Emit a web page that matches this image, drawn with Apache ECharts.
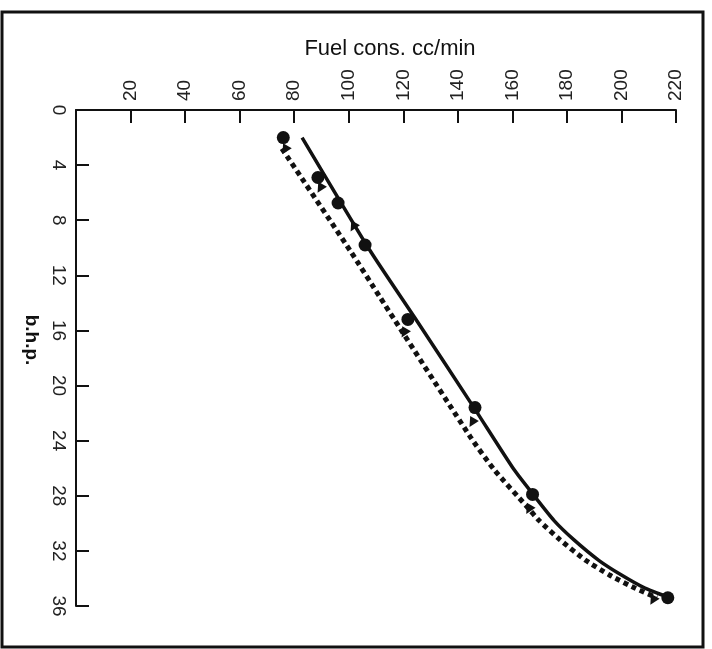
<!DOCTYPE html>
<html>
<head>
<meta charset="utf-8">
<script src="https://cdn.jsdelivr.net/npm/echarts@6/dist/echarts.min.js"></script>
<style>
html,body{margin:0;padding:0;background:#fff;}
#chart{width:712px;height:649px;}
</style>
</head>
<body>
<div id="chart"></div>
<script>
// Fuel consumption (cc/min) vs b.h.p.
var fuelTicks = [0, 20, 40, 60, 80, 100, 120, 140, 160, 180, 200, 220];
var bhpTicks = [0, 4, 8, 12, 16, 20, 24, 28, 32, 36];

// measured points (circles) [fuel, bhp]
var circlePoints = [[76, 2], [88.7, 4.9], [96.1, 6.75], [106, 9.8], [121.7, 15.2], [146.3, 21.6], [167.4, 27.9], [217, 35.4]];
// measured points (triangles) [fuel, bhp]
var trianglePoints = [[76.6, 2.9], [89.5, 5.7], [101.6, 8.5], [120.3, 16.2], [145.2, 22.7], [166, 29], [211.5, 35.6]];

// solid fitted curve [fuel, bhp]
var solidCurve = [[82.9, 2.0], [107.8, 10.2], [124.3, 15.1], [145.9, 21.6], [160.6, 26.1], [167.6, 27.9], [175.3, 29.8], [182.6, 31.2], [191.8, 32.7], [200.0, 33.75], [208.6, 34.7], [217.1, 35.35]];
// dotted fitted curve [fuel, bhp]
var dottedCurve = [[75.5, 2.8], [100.5, 10.2], [111.5, 13.6], [144.5, 23.7], [153.3, 26.1], [165.4, 28.8], [169.8, 29.8], [177.5, 31.2], [187.0, 32.7], [195.6, 33.75], [204.9, 34.7], [213.0, 35.4]];

var FONT = '"Liberation Sans", Arial, sans-serif';
var chart = echarts.init(document.getElementById('chart'), null, {renderer: 'canvas'});
chart.setOption({
  backgroundColor: '#ffffff',
  animation: false,
  grid: {left: 76, top: 110, right: 36, bottom: 43, containLabel: false},
  graphic: [{
    type: 'rect', z: 100, silent: true,
    shape: {x: 2, y: 12, width: 701, height: 635},
    style: {fill: 'none', stroke: '#111', lineWidth: 3}
  }],
  xAxis: {
    type: 'value', position: 'top', min: 0, max: 220, interval: 20,
    name: 'Fuel cons. cc/min', nameLocation: 'middle', nameGap: 50,
    nameTextStyle: {fontFamily: FONT, fontSize: 22, color: '#111', padding: [0, 0, 0, 28]},
    axisLine: {show: true, onZero: false, lineStyle: {color: '#111', width: 2}},
    axisTick: {show: true, inside: true, length: 13, lineStyle: {color: '#111', width: 2}},
    axisLabel: {show: true, rotate: -90, margin: 9, showMinLabel: false, fontFamily: FONT, fontSize: 19, color: '#222'},
    splitLine: {show: false}
  },
  yAxis: {
    type: 'value', inverse: true, min: 0, max: 36, interval: 4,
    name: 'b.h.p.', nameLocation: 'middle', nameGap: 28, nameRotate: -90,
    nameTextStyle: {fontFamily: FONT, fontSize: 19, fontWeight: 'bold', color: '#111', padding: [0, 36, 0, 0]},
    axisLine: {show: true, onZero: false, lineStyle: {color: '#111', width: 2}},
    axisTick: {show: true, inside: true, length: 13, lineStyle: {color: '#111', width: 2}},
    axisLabel: {show: true, rotate: -90, margin: 8, fontFamily: FONT, fontSize: 19, color: '#222'},
    splitLine: {show: false}
  },
  series: [
    {
      type: 'line', data: solidCurve, smooth: 0.2, showSymbol: false, symbol: 'none',
      lineStyle: {color: '#111', width: 3.5}, z: 3
    },
    {
      type: 'line', data: dottedCurve, smooth: 0.2, showSymbol: false, symbol: 'none',
      lineStyle: {color: '#111', width: 5, type: [5, 4], cap: 'butt'}, z: 3
    },
    {
      type: 'scatter', data: circlePoints, symbol: 'circle', symbolSize: 13,
      itemStyle: {color: '#111', opacity: 1}, z: 5
    },
    {
      type: 'scatter', data: trianglePoints, symbol: 'triangle', symbolSize: 10, symbolRotate: 150,
      itemStyle: {color: '#111', opacity: 1}, z: 5
    }
  ]
});
</script>
</body>
</html>
